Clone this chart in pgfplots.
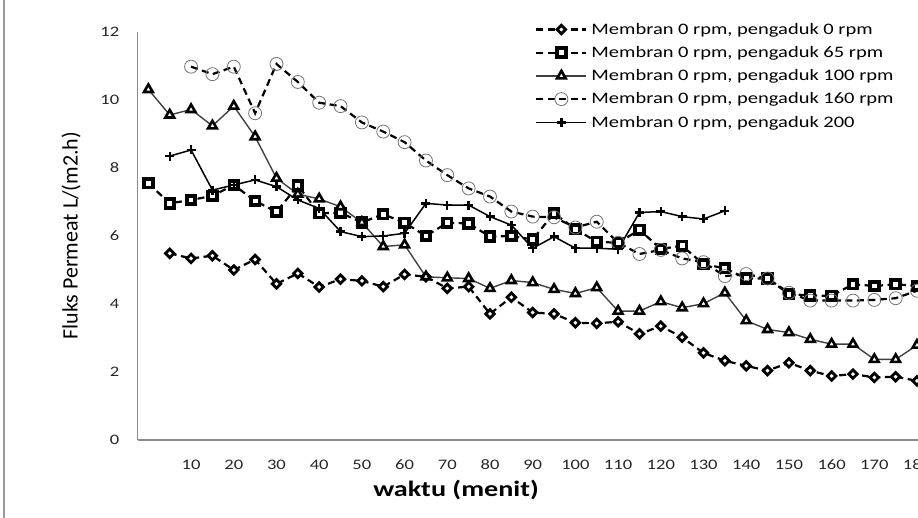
\documentclass[border=0pt]{standalone}
\usepackage{pgfplots}
\pgfplotsset{compat=1.18}
\usepackage{fontspec}
\setmainfont{Carlito}
\newfontfamily\sfont[FakeStretch=1.28]{Carlito}

\pgfplotstableread{
x y
5 5.49
10 5.34
15 5.42
20 5.0
25 5.31
30 4.59
35 4.9
40 4.5
45 4.73
50 4.68
55 4.51
60 4.87
65 4.8
70 4.46
75 4.51
80 3.71
85 4.2
90 3.75
95 3.71
100 3.45
105 3.43
110 3.48
115 3.12
120 3.35
125 3.02
130 2.56
135 2.33
140 2.18
145 2.04
150 2.27
155 2.04
160 1.88
165 1.94
170 1.84
175 1.86
180 1.74
}\tA

\pgfplotstableread{
x y
0 7.55
5 6.96
10 7.06
15 7.18
20 7.5
25 7.03
30 6.71
35 7.48
40 6.67
45 6.68
50 6.4
55 6.64
60 6.39
65 6.0
70 6.39
75 6.37
80 5.98
85 6.0
90 5.9
95 6.67
100 6.2
105 5.83
110 5.8
115 6.18
120 5.62
125 5.71
130 5.17
135 5.05
140 4.75
145 4.75
150 4.29
155 4.25
160 4.24
165 4.58
170 4.53
175 4.58
180 4.53
}\tB

\pgfplotstableread{
x y
0 10.31
5 9.56
10 9.72
15 9.24
20 9.82
25 8.92
30 7.7
35 7.23
40 7.09
45 6.86
50 6.4
55 5.69
60 5.74
65 4.8
70 4.77
75 4.75
80 4.46
85 4.69
90 4.63
95 4.43
100 4.31
105 4.48
110 3.79
115 3.79
120 4.07
125 3.89
130 4.01
135 4.33
140 3.51
145 3.25
150 3.16
155 2.96
160 2.82
165 2.82
170 2.37
175 2.37
180 2.79
}\tC

\pgfplotstableread{
x y
10 10.98
15 10.76
20 10.98
25 9.61
30 11.06
35 10.53
40 9.92
45 9.82
50 9.34
55 9.07
60 8.76
65 8.22
70 7.79
75 7.4
80 7.16
85 6.72
90 6.57
95 6.55
100 6.25
105 6.42
110 5.8
115 5.47
120 5.59
125 5.34
130 5.23
135 4.82
140 4.88
145 4.75
150 4.33
155 4.1
160 4.1
165 4.1
170 4.12
175 4.17
180 4.39
}\tD

\pgfplotstableread{
x y
5 8.35
10 8.53
15 7.35
20 7.5
25 7.65
30 7.45
35 7.06
40 6.81
45 6.13
50 5.98
55 6.0
60 6.08
65 6.96
70 6.91
75 6.91
80 6.57
85 6.32
90 5.64
95 5.98
100 5.64
105 5.64
110 5.61
115 6.69
120 6.72
125 6.57
130 6.5
135 6.74
}\tE

\begin{document}
\begin{tikzpicture}
\begin{axis}[
  scale only axis, width=790pt, height=408pt,
  xmin=-2.5, xmax=182.5, ymin=0, ymax=12,
  axis lines=left, axis line style={-, draw=black!45, line width=1.1pt},
  xtick={10,20,...,180}, ytick={0,2,...,12},
  major tick length=0pt,
  /pgf/number format/assume math mode=true,
  ticklabel style={font=\sfont\fontsize{14.5}{16}\selectfont, text=black!85},
  xticklabel style={anchor=base, text height=10pt, text depth=0pt, yshift=-30pt},
  yticklabel style={xshift=-15pt},
  xlabel={waktu (menit)},
  xlabel style={at={(axis description cs:0.403,-0.1225)}, anchor=center, font=\sfont\bfseries\fontsize{22}{24}\selectfont},
  ylabel={Fluks Permeat L/(m2.h)},
  ylabel style={at={(axis description cs:-0.0844,0.5005)}, anchor=center, font=\fontsize{22}{24}\selectfont},
  clip=false,
  legend image code/.code={\draw[mark repeat=2,mark phase=2,#1] plot coordinates {(0pt,0pt) (25pt,0pt) (50pt,0pt)};},
  legend style={at={(axis description cs:0.503,1.027)}, anchor=north west, draw=none, fill=none,
    font=\sfont\fontsize{16}{17}\selectfont, row sep=6.6pt, column sep=2pt, inner sep=0pt},
  legend cell align=left,
]
\addplot[black, line width=2.2pt, dash pattern=on 7pt off 4.5pt, mark=square*, mark size=3pt,
  mark options={solid, rotate=45, fill=white, draw=black, line width=2.8pt}] table {\tA};
\addlegendentry{Membran 0 rpm, pengaduk 0 rpm}
\addplot[black, line width=2.2pt, dash pattern=on 7pt off 4.5pt, mark=square*, mark size=4.3pt,
  mark options={solid, fill=white, draw=black, line width=3.8pt}] table {\tB};
\addlegendentry{Membran 0 rpm, pengaduk 65 rpm}
\addplot[black!75, line width=1.4pt, mark=triangle*, mark size=5pt,
  mark options={solid, fill=white, draw=black, line width=2.6pt}] table {\tC};
\addlegendentry{Membran 0 rpm, pengaduk 100 rpm}
\addplot[black, line width=2.2pt, dash pattern=on 7pt off 4.5pt, mark=o, mark size=6.5pt,
  mark options={solid, draw=black!55, line width=0.8pt}] table {\tD};
\addlegendentry{Membran 0 rpm, pengaduk 160 rpm}
\addplot[black, line width=1.5pt, mark=+, mark size=4.5pt,
  mark options={solid, draw=black, line width=2.4pt}] table {\tE};
\addlegendentry{Membran 0 rpm, pengaduk 200}
\end{axis}
\pgfresetboundingbox
\path[use as bounding box] (-137.7pt,-78pt) rectangle (780.3pt,440pt);
\draw[black!40, line width=1.2pt] (-133.7pt,-78pt) -- (-133.7pt,440pt);
\end{tikzpicture}
\end{document}
